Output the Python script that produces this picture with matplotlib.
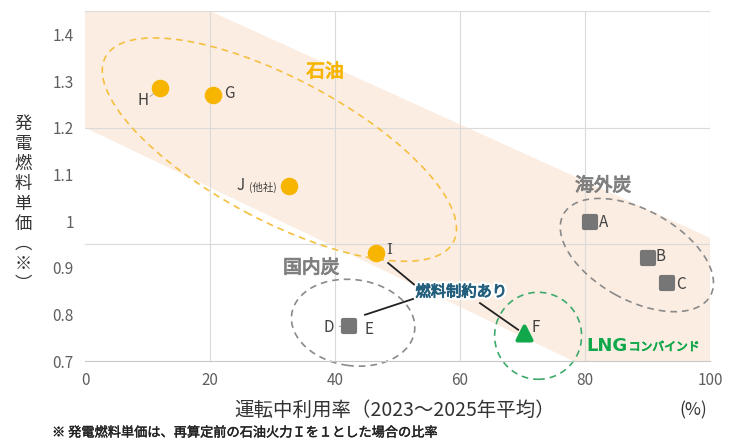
import matplotlib
matplotlib.use("Agg")
import matplotlib.pyplot as plt
import matplotlib.patheffects as pe
from matplotlib.patches import Ellipse, Polygon
from matplotlib.transforms import ScaledTranslation

plt.rcParams["font.family"] = ["Noto Sans CJK JP", "DejaVu Sans"]

# data
oil_names = ["H", "G", "J", "I"]
oil_x = [12.0, 20.5, 32.6, 46.6]
oil_y = [1.284, 1.269, 1.076, 0.932]

coal_names = ["A", "B", "C", "E"]
coal_x = [80.8, 90.1, 93.1, 42.2]
coal_y = [0.998, 0.921, 0.867, 0.775]

lng_names = ["F"]
lng_x = [70.2]
lng_y = [0.760]

x_ticks = [0, 20, 40, 60, 80, 100]
y_ticks = [0.7, 0.8, 0.9, 1.0, 1.1, 1.2, 1.3, 1.4]
y_tick_labels = ["0.7", "0.8", "0.9", "1", "1.1", "1.2", "1.3", "1.4"]
y_grid = [0.95, 1.2, 1.45]

# trend band (x, y corners)
band_x = [0, 20, 100, 100, 78.1, 0]
band_y = [1.45, 1.45, 0.964, 0.7, 0.7, 1.2]

ORANGE = "#F7B500"
GRAY = "#767676"
GREEN = "#10A84A"
TXT = "#404040"


def bold(color, w=0.7):
    # fake bold: the CJK font here has no bold face
    return [pe.Stroke(linewidth=w, foreground=color), pe.Normal()]


fig = plt.figure(figsize=(7.34, 4.43), dpi=100)
ax = fig.add_axes([85 / 734, 82 / 443, 625 / 734, 350 / 443])
ax.set_xlim(0, 100)
ax.set_ylim(0.7, 1.45)

ax.add_patch(Polygon(list(zip(band_x, band_y)), closed=True, facecolor="#FCEDE2",
                     edgecolor="none", zorder=0))

for v in x_ticks[1:]:
    ax.axvline(v, color="#DADADA", lw=0.8, zorder=0.5)
for v in y_grid:
    ax.axhline(v, color="#DADADA", lw=0.8, zorder=0.5)

for s in ["top", "right", "left"]:
    ax.spines[s].set_visible(False)
ax.spines["bottom"].set_color("#C8C8C8")
ax.set_xticks(x_ticks)
ax.set_yticks(y_ticks)
ax.set_yticklabels(y_tick_labels)
ax.tick_params(length=0, labelsize=11, labelcolor="#5F5F5F", pad=8)


def ring(cx, cy, w, h, ang, color):
    # ellipse sized in pixels, anchored at a data point
    tr = fig.dpi_scale_trans + ScaledTranslation(cx, cy, ax.transData)
    e = Ellipse((0, 0), w / 100, h / 100, angle=ang, transform=tr, fill=False,
                edgecolor=color, lw=1.2, linestyle=(0, (4, 3)), clip_on=False, zorder=2)
    ax.add_patch(e)


ring(31.1, 1.153, 394, 142, -28, "#F5C040")
ring(42.9, 0.782, 124, 86, -8, "#8A8A8A")
ring(88.3, 0.927, 168, 90, -29, "#8A8A8A")
ring(72.5, 0.754, 87, 87, 0, "#3DAA6C")

ax.scatter(oil_x, oil_y, s=135, color=ORANGE, zorder=4)
ax.scatter(coal_x, coal_y, s=65, marker="s", color=GRAY, edgecolors=GRAY,
           linewidths=3, zorder=4)
ax.scatter(lng_x, lng_y, s=100, marker="^", color=GREEN, edgecolors=GREEN,
           linewidths=3, zorder=4)

# point labels: offsets in pixels
offsets = {"H": (-17, -12, "center"), "G": (11, 2, "left"), "I": (10, 3, "left"),
           "A": (9, -1, "left"), "B": (7, 1, "left"), "C": (9, -1, "left"),
           "E": (16, -4, "left"), "F": (8, 5, "left")}
all_names = oil_names + coal_names + lng_names
all_x = oil_x + coal_x + lng_x
all_y = oil_y + coal_y + lng_y
for n, x, y in zip(all_names, all_x, all_y):
    if n not in offsets:
        continue
    dx, dy, ha = offsets[n]
    fam = ["DejaVu Serif"] if n == "I" else None
    ax.annotate(n, (x, y), xytext=(dx, dy), textcoords="offset pixels", ha=ha,
                va="center", fontsize=11, color=TXT, family=fam, zorder=5)

jx, jy = oil_x[2], oil_y[2]
ax.annotate("(他社)", (jx, jy), xytext=(-12, -2), textcoords="offset pixels",
            ha="right", va="center", fontsize=7.5, color=TXT)
ax.annotate("J", (jx, jy), xytext=(-44, 0), textcoords="offset pixels",
            ha="right", va="center", fontsize=11, color=TXT)
dx_, dy_ = coal_x[3], coal_y[3]
ax.annotate("D", (dx_, dy_), xytext=(-15, -1), textcoords="offset pixels",
            ha="right", va="center", fontsize=11, color=TXT,
            arrowprops=dict(arrowstyle="-", color="#A0A0A0", lw=0.8, shrinkA=2, shrinkB=6))
hx, hy = oil_x[0], oil_y[0]
ax.annotate("", (hx, hy), xytext=(-10, -8), textcoords="offset pixels",
            arrowprops=dict(arrowstyle="-", color="#B0B0B0", lw=0.8, shrinkA=0, shrinkB=6))

# group labels
ax.text(38.4, 1.320, "石油", fontsize=13.5, color=ORANGE, ha="center", va="center",
        path_effects=bold(ORANGE))
ax.text(82.9, 1.076, "海外炭", fontsize=13.5, color="#7F7F7F", ha="center", va="center",
        path_effects=bold("#7F7F7F"))
ax.text(36.2, 0.900, "国内炭", fontsize=13.5, color="#7F7F7F", ha="center", va="center",
        path_effects=bold("#7F7F7F"))
ax.text(80.3, 0.732, "LNG", fontsize=13, weight="bold", color=GREEN,
        ha="left", va="center", family=["DejaVu Sans"])
ax.text(87.0, 0.730, "コンバインド", fontsize=8.5, color=GREEN, ha="left", va="center",
        path_effects=bold(GREEN, 0.6))

# fuel-constrained callout
lab = (60.2, 0.848)
ax.text(lab[0], lab[1], "燃料制約あり", fontsize=11, color="#235F7D",
        ha="center", va="center", zorder=6,
        path_effects=[pe.Stroke(linewidth=4, foreground="white"),
                      pe.Stroke(linewidth=0.7, foreground="#235F7D"), pe.Normal()])
ax.plot([oil_x[3] + 1.9, 53.1], [oil_y[3] - 0.022, 0.859], color="#222222", lw=1.3, zorder=3)
ax.plot([coal_x[3] + 2.6, 52.5], [coal_y[3] + 0.024, 0.833], color="#222222", lw=1.3, zorder=3)
ax.plot([63.2, lng_x[0] - 0.9], [0.824, lng_y[0] + 0.007], color="#222222", lw=1.3, zorder=3)

# axis titles and note
fig.text(395 / 734, 1 - 410 / 443, "運転中利用率（2023～2025年平均）", fontsize=14,
         color="#333333", ha="center", va="center")
fig.text(693 / 734, 1 - 410 / 443, "(%)", fontsize=12.5, color="#333333",
         ha="center", va="center")
fig.text(23 / 734, 1 - 204 / 443, "発\n電\n燃\n料\n単\n価\n︵\n※\n︶", fontsize=12.5,
         color="#333333", ha="center", va="center", linespacing=1.14)
fig.text(52 / 734, 1 - 433 / 443, "※ 発電燃料単価は、再算定前の石油火力Ｉを１とした場合の比率",
         fontsize=9.5, color="#222222", ha="left", va="center",
         path_effects=bold("#222222", 0.3))

fig.savefig("out.png", dpi=100)
